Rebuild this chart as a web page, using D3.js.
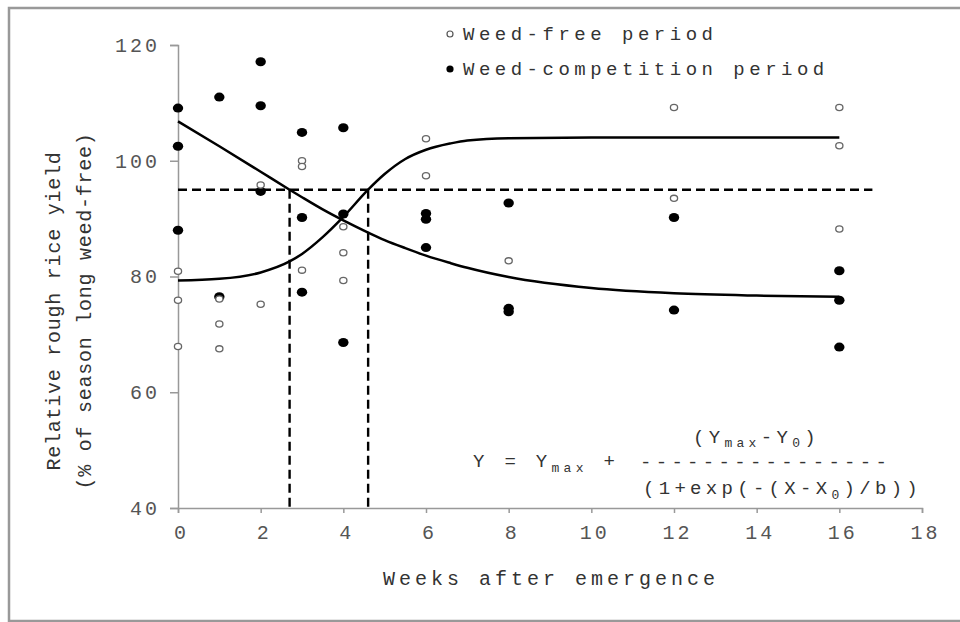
<!DOCTYPE html>
<html lang="en">
<head>
  <meta charset="UTF-8">
  <title>Relative rough rice yield</title>
  <script src="https://d3js.org/d3.v7.min.js"></script>
  <style>
    body { margin: 0; background: #fff; }
    svg { display: block; }
    text { font-family: "Liberation Mono", "Courier New", monospace; }
    .axis path, .axis line { stroke: #999; stroke-width: 1.5; }
    .axis text { fill: #555; font-size: 20px; letter-spacing: 3px; font-family: "Liberation Mono", "Courier New", monospace; }
    .label { fill: #333; }
  </style>
</head>
<body>
  <svg width="960" height="622"></svg>
  <script>
    // weed-free period (open circles)
    const freeWeeks = [0, 0, 0, 1, 1, 1, 2, 2, 3, 3, 3, 4, 4, 4, 6, 6, 8, 12, 12, 16, 16, 16];
    const freeYield = [80.9, 75.9, 67.9, 76.1, 71.8, 67.5, 95.8, 75.2, 100.0, 99.0, 81.1,
                       88.6, 84.1, 79.3, 103.8, 97.4, 82.7, 109.2, 93.5, 109.2, 102.6, 88.2];

    // weed-competition period (filled circles)
    const compWeeks = [0, 0, 0, 1, 1, 2, 2, 2, 3, 3, 3, 4, 4, 4, 6, 6, 6, 8, 8, 8, 12, 12, 16, 16, 16];
    const compYield = [109.1, 102.5, 88.0, 111.0, 76.5, 117.1, 109.5, 94.7, 104.9, 90.2, 77.3,
                       105.7, 90.8, 68.6, 90.9, 89.9, 85.0, 92.7, 74.5, 73.9, 90.2, 74.2, 81.0, 75.9, 67.8];

    // fitted curves
    const fitWeeks = [0, 1, 2, 2.7, 3, 3.5, 4, 4.6, 5, 5.5, 6, 6.6, 7, 8, 10, 12, 14, 16];
    const freeFit  = [79.3, 79.6, 80.7, 82.6, 83.9, 86.8, 90.3, 95.0, 97.7, 100.3, 101.9, 103.0, 103.5, 103.9, 104, 104, 104, 104];
    const compFit  = [106.8, 102.5, 98.1, 95.0, 93.7, 91.6, 89.7, 87.6, 86.3, 84.9, 83.6, 82.3, 81.5, 79.9, 78.0, 77.1, 76.7, 76.5];

    // 95% yield threshold and critical period limits
    const threshold = 95;
    const thresholdEnd = 16.8;
    const criticalWeeks = [2.7, 4.6];

    const xTicks = [0, 2, 4, 6, 8, 10, 12, 14, 16, 18];
    const yTicks = [40, 60, 80, 100, 120];

    const svg = d3.select("svg");

    const x = d3.scaleLinear().domain([0, 18]).range([178, 922]);
    const y = d3.scaleLinear().domain([40, 120]).range([508, 45]);

    // outer frame
    svg.append("rect")
      .attr("x", 9).attr("y", 8)
      .attr("width", 960).attr("height", 613)
      .attr("fill", "none")
      .attr("stroke", "#999")
      .attr("stroke-width", 2.5);

    const xAxis = svg.append("g")
      .attr("class", "axis")
      .attr("transform", `translate(0,${y(40)})`)
      .call(d3.axisBottom(x).tickValues(xTicks).tickSize(5).tickPadding(12));
    xAxis.selectAll("text").attr("dx", "0.15em");

    const yAxis = svg.append("g")
      .attr("class", "axis")
      .attr("transform", `translate(${x(0)},0)`)
      .call(d3.axisLeft(y).tickValues(yTicks).tickSize(8).tickPadding(12));
    yAxis.selectAll("text").attr("dx", "0.1em");

    // axis titles
    svg.append("text")
      .attr("class", "label")
      .attr("x", 551).attr("y", 585)
      .attr("text-anchor", "middle")
      .style("font-size", "20px")
      .style("letter-spacing", "4px")
      .text("Weeks after emergence");

    const yTitle = svg.append("text")
      .attr("class", "label")
      .attr("transform", "rotate(-90)")
      .attr("text-anchor", "middle")
      .style("font-size", "20px")
      .style("letter-spacing", "0.75px");
    yTitle.append("tspan").attr("x", -311).attr("y", 60).text("Relative rough rice yield");
    yTitle.append("tspan").attr("x", -311).attr("y", 91).text("(% of season long weed-free)");

    // dashed reference lines
    svg.append("line")
      .attr("x1", x(0)).attr("x2", x(thresholdEnd))
      .attr("y1", y(threshold)).attr("y2", y(threshold))
      .attr("stroke", "#000").attr("stroke-width", 2.4)
      .attr("stroke-dasharray", "9,5");

    svg.selectAll(".crit")
      .data(criticalWeeks)
      .enter().append("line")
      .attr("class", "crit")
      .attr("x1", d => x(d)).attr("x2", d => x(d))
      .attr("y1", y(threshold)).attr("y2", y(40))
      .attr("stroke", "#000").attr("stroke-width", 2.4)
      .attr("stroke-dasharray", "9,5");

    // fitted curves
    const line = d3.line()
      .x(d => x(d[0]))
      .y(d => y(d[1]))
      .curve(d3.curveMonotoneX);

    [freeFit, compFit].forEach(fit => {
      svg.append("path")
        .datum(fitWeeks.map((w, i) => [w, fit[i]]))
        .attr("d", line)
        .attr("fill", "none")
        .attr("stroke", "#000")
        .attr("stroke-width", 2.5);
    });

    // points
    svg.append("g").selectAll("ellipse")
      .data(compWeeks.map((w, i) => [w, compYield[i]]))
      .enter().append("ellipse")
      .attr("cx", d => x(d[0])).attr("cy", d => y(d[1]))
      .attr("rx", 5.2).attr("ry", 4.5)
      .attr("fill", "#000");

    svg.append("g").selectAll("ellipse")
      .data(freeWeeks.map((w, i) => [w, freeYield[i]]))
      .enter().append("ellipse")
      .attr("cx", d => x(d[0])).attr("cy", d => y(d[1]))
      .attr("rx", 3.6).attr("ry", 3.1)
      .attr("fill", "#fff")
      .attr("stroke", "#666")
      .attr("stroke-width", 1.3);

    // legend
    const legend = svg.append("g");
    legend.append("circle").attr("cx", 450).attr("cy", 34).attr("r", 3)
      .attr("fill", "#fff").attr("stroke", "#555").attr("stroke-width", 1.2);
    legend.append("circle").attr("cx", 450).attr("cy", 69).attr("r", 3.6)
      .attr("fill", "#000");
    legend.append("text").attr("x", 463).attr("y", 40)
      .attr("class", "label")
      .style("font-size", "19px").style("letter-spacing", "4.5px")
      .text("Weed-free period");
    legend.append("text").attr("x", 463).attr("y", 75)
      .attr("class", "label")
      .style("font-size", "19px").style("letter-spacing", "4.5px")
      .text("Weed-competition period");

    // equation
    const eq = svg.append("g")
      .attr("class", "label")
      .style("font-size", "19px")
      .style("letter-spacing", "4.3px");

    const num = eq.append("text").attr("x", 693).attr("y", 443).attr("class", "label");
    num.append("tspan").text("(Y");
    num.append("tspan").attr("dy", 4).style("font-size", "13px").text("max");
    num.append("tspan").attr("dy", -4).text("-Y");
    num.append("tspan").attr("dy", 4).style("font-size", "13px").text("0");
    num.append("tspan").attr("dy", -4).text(")");

    const lhs = eq.append("text").attr("x", 473).attr("y", 467).attr("class", "label");
    lhs.append("tspan").text("Y = Y");
    lhs.append("tspan").attr("dy", 5).style("font-size", "13px").text("max");
    lhs.append("tspan").attr("dy", -5).text(" +");

    eq.append("text").attr("x", 640).attr("y", 468).attr("class", "label")
      .text("----------------");

    const den = eq.append("text").attr("x", 643).attr("y", 494).attr("class", "label");
    den.append("tspan").text("(1+exp(-(X-X");
    den.append("tspan").attr("dy", 5).style("font-size", "13px").text("0");
    den.append("tspan").attr("dy", -5).text(")/b))");
  </script>
</body>
</html>
